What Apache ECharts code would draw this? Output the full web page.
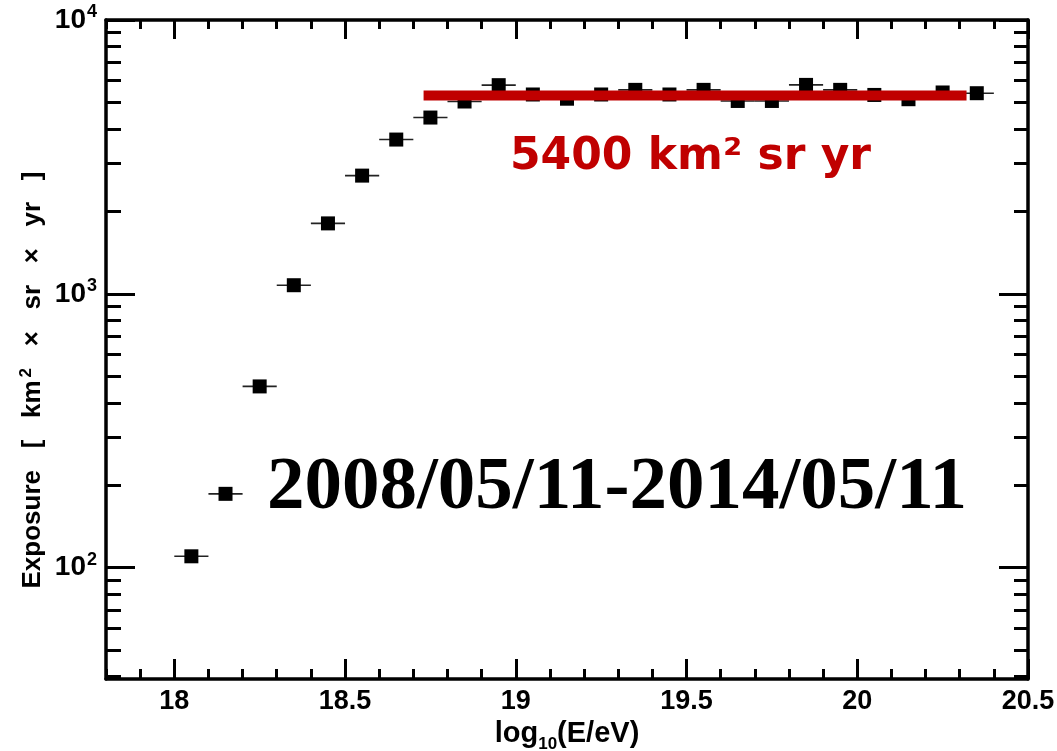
<!DOCTYPE html>
<html>
<head>
<meta charset="utf-8">
<script src="https://cdn.jsdelivr.net/npm/echarts@6/dist/echarts.min.js"></script>
<style>
html,body{margin:0;padding:0;background:#fff;}
#chart{width:1057px;height:751px;}
</style>
</head>
<body>
<div id="chart"></div>
<script>
// ---- data ----
const binCenters = [18.05,18.15,18.25,18.35,18.45,18.55,18.65,18.75,18.85,18.95,19.05,19.15,19.25,19.35,19.45,19.55,19.65,19.75,19.85,19.95,20.05,20.15,20.25,20.35];
const exposure   = [110,186,459,1075,1808,2702,3659,4403,5039,5781,5345,5159,5345,5557,5345,5557,5062,5062,5794,5557,5325,5137,5436,5403];
const binHalfWidth = 0.05;
const flatLineX = [18.73, 20.32];
const flatLineY = 5300;
const xMajorTicks = [18,18.5,19,19.5,20,20.5];
const xMinorTicks = [17.8,17.9,18.1,18.2,18.3,18.4,18.6,18.7,18.8,18.9,19.1,19.2,19.3,19.4,19.6,19.7,19.8,19.9,20.1,20.2,20.3,20.4];
const yMajorTicks = [100,1000,10000];
const yMinorTicks = [40,50,60,70,80,90,200,300,400,500,600,700,800,900,2000,3000,4000,5000,6000,7000,8000,9000];
const xRange = [17.8, 20.5];
const yRange = [39.2, 10000];
const periodText = '2008/05/11-2014/05/11';
const flatText = '5400 km² sr yr';

const chart = echarts.init(document.getElementById('chart'), null, {renderer:'canvas'});
const LW = 3.5;
const FONT = '"Liberation Sans", Arial, Helvetica, sans-serif';

function xAx(pos, ticks, len, showLabel, showLine) {
  return {
    type:'value', position:pos, min:xRange[0], max:xRange[1],
    axisLine:{show:showLine, onZero:false, lineStyle:{color:'#000', width:LW}},
    axisTick:{show:true, inside:true, length:len, customValues:ticks, lineStyle:{color:'#000', width:3}},
    axisLabel:{show:showLabel, customValues: showLabel ? xMajorTicks : undefined, color:'#000', fontFamily:FONT, fontWeight:'bold', fontSize:27, margin:9},
    splitLine:{show:false}
  };
}
function yAx(pos, ticks, len, showLabel, showLine) {
  return {
    type:'log', logBase:10, position:pos, min:yRange[0], max:yRange[1],
    axisLine:{show:showLine, onZero:false, lineStyle:{color:'#000', width:LW}},
    axisTick:{show:true, inside:true, length:len, customValues:ticks, lineStyle:{color:'#000', width:3}},
    axisLabel:{show:showLabel, customValues: showLabel ? yMajorTicks : undefined, margin:9,
      formatter: v => '{b|10}{s|' + Math.round(Math.log10(v)) + '}',
      rich:{
        b:{color:'#000', fontFamily:FONT, fontWeight:'bold', fontSize:28},
        s:{color:'#000', fontFamily:FONT, fontWeight:'bold', fontSize:18, padding:[0,0,15,1]}
      }},
    splitLine:{show:false}
  };
}

const xAxes = [
  Object.assign(xAx('bottom', xMajorTicks, 20, true, true), {
    name:'log{sub|10}(E/eV)', nameLocation:'middle', nameGap:31,
    nameTextStyle:{color:'#000', fontFamily:FONT, fontWeight:'bold', fontSize:29,
      rich:{sub:{fontFamily:FONT, fontWeight:'bold', fontSize:17, color:'#000', padding:[20,0,0,0]}}}
  }),
  xAx('bottom', xMinorTicks, 10, false, false),
  xAx('top', xMajorTicks, 19, false, true),
  xAx('top', xMinorTicks, 9, false, false)
];
const yAxes = [
  yAx('left', yMajorTicks, 29, true, true),
  yAx('left', yMinorTicks, 15, false, false),
  yAx('right', yMajorTicks, 29, false, true),
  yAx('right', yMinorTicks, 14, false, false)
];

const pts = binCenters.map((x,i) => [x, exposure[i]]);

chart.setOption({
  animation:false,
  backgroundColor:'#fff',
  grid:{left:106, right:29, top:20, bottom:72, containLabel:false, outerBoundsMode:'none'},
  xAxis:xAxes,
  yAxis:yAxes,
  series:[
    {
      type:'custom', xAxisIndex:0, yAxisIndex:0, z:2,
      data: pts,
      renderItem:(params, api) => {
        const x = api.value(0), y = api.value(1);
        const a = api.coord([x - binHalfWidth, y]);
        const b = api.coord([x + binHalfWidth, y]);
        return {type:'line', shape:{x1:a[0], y1:a[1], x2:b[0], y2:b[1]}, style:{stroke:'#222', lineWidth:1.6}};
      }
    },
    {
      type:'scatter', xAxisIndex:0, yAxisIndex:0, z:3,
      symbol:'rect', symbolSize:14,
      itemStyle:{color:'#000', opacity:1},
      data: pts
    },
    {
      type:'line', xAxisIndex:0, yAxisIndex:0, z:4,
      symbol:'none',
      lineStyle:{color:'#c00000', width:10, cap:'butt'},
      data: flatLineX.map(x => [x, flatLineY])
    }
  ],
  graphic:[
    {type:'text', z:10, x:33, y:380, rotation:Math.PI/2,
      style:{
        text:'{t|Exposure   [   km}{s|2}{t|   ×   sr   ×   yr   ]}',
        align:'center', verticalAlign:'middle',
        rich:{
          t:{fill:'#000', fontFamily:FONT, fontWeight:'bold', fontSize:26},
          s:{fill:'#000', fontFamily:FONT, fontWeight:'bold', fontSize:17, padding:[0,0,13,3]}
        }
      }},
    {type:'text', z:10, left:267, top:451,
      style:{text:periodText, fill:'#000', font:'bold 75px "Liberation Serif", "Times New Roman", serif'}},
    {type:'text', z:10, left:510, top:136,
      style:{text:flatText, fill:'#c00000', font:'bold 44px "DejaVu Sans", sans-serif'}}
  ]
});
</script>
</body>
</html>
